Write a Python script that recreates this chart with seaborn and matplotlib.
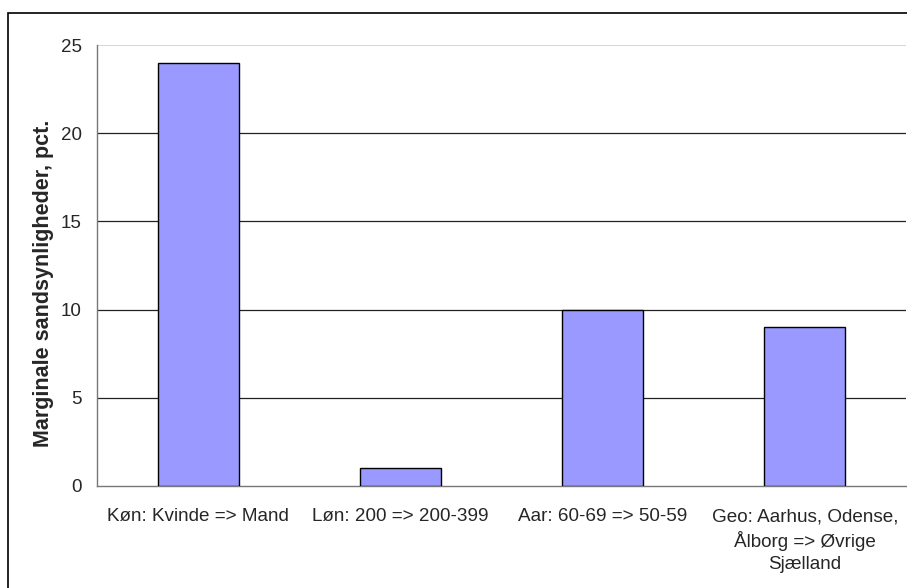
import numpy as np
import pandas as pd
import matplotlib
matplotlib.use("Agg")
import matplotlib.pyplot as plt
import seaborn as sns
from matplotlib.patches import Rectangle

# Data
categories = [
    "Køn: Kvinde => Mand",
    "Løn: 200 => 200-399",
    "Aar: 60-69 => 50-59",
    "Geo: Aarhus, Odense,\nÅlborg => Øvrige\nSjælland",
]
values = [24, 1, 10, 9]
y_ticks = [0, 5, 10, 15, 20, 25]
y_label = "Marginale sandsynligheder, pct."

df = pd.DataFrame({"kategori": categories, "værdi": values})

sns.set_style("white")
plt.rcParams["font.family"] = ["Liberation Sans", "DejaVu Sans"]

fig = plt.figure(figsize=(9.07, 5.88), dpi=100)
ax = fig.add_axes([97 / 907, 1 - 486 / 588, (906 - 97) / 907, (486 - 45) / 588])

# outer chart border
fig.patches.append(Rectangle((8 / 907, -0.01), 1.0, (588 - 13) / 588 + 0.01,
                             transform=fig.transFigure, fill=False,
                             edgecolor="black", linewidth=1.2, zorder=0))

sns.barplot(data=df, x="kategori", y="værdi", color="#9999FF",
            saturation=1, width=0.4, edgecolor="black", linewidth=1.0,
            ax=ax, zorder=3)

ax.set_ylim(0, 25)
ax.set_xlim(-0.5, len(categories) - 0.5)
ax.set_yticks(y_ticks)
ax.set_yticklabels([str(t) for t in y_ticks], fontsize=13.5)

# gridlines
for t in y_ticks[1:-1]:
    ax.axhline(t, color="#222222", linewidth=0.9, zorder=1)
ax.axhline(25, color="#d0d0d0", linewidth=1.2, zorder=1)

# x ticks between categories
ax.set_xticks(np.arange(len(categories)))
ax.set_xticklabels(categories, fontsize=13.6, linespacing=1.37)
ax.set_xticks(np.arange(len(categories) + 1) - 0.5, minor=True)
ax.tick_params(axis="x", which="major", length=0, pad=16)
ax.tick_params(axis="x", which="minor", direction="out", length=5,
               color="#555555", width=1)
ax.tick_params(axis="y", direction="out", length=5, color="#555555",
               width=1, pad=6)

ax.set_xlabel("")
ax.set_ylabel(y_label, fontsize=15.5, fontweight="bold")
ax.yaxis.set_label_coords(-0.053, 0.46)

for side in ["top", "right"]:
    ax.spines[side].set_visible(False)
ax.spines["left"].set_color("#777777")
ax.spines["bottom"].set_color("#777777")
ax.spines["left"].set_linewidth(1)
ax.spines["bottom"].set_linewidth(1)

fig.savefig("out.png", dpi=100)
